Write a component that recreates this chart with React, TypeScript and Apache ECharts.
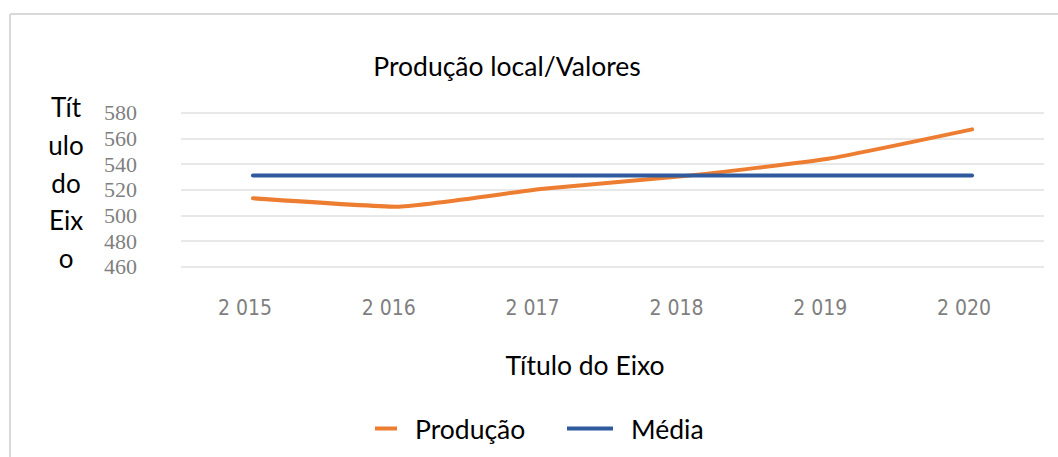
import React, { useEffect, useRef } from "react";
import * as echarts from "echarts";

const categories = ["2 015", "2 016", "2 017", "2 018", "2 019", "2 020"];
const producao = [513.3, 506.8, 520.5, 530.6, 544.1, 567];
const media = [531, 531, 531, 531, 531, 531];
const yTicks = { min: 460, max: 580, interval: 20 };
const chartTitle = "Produção local/Valores";
const xName = "Título do Eixo";
const yNameLines = ["Tít", "ulo", "do", "Eix", "o"];

const ORANGE = "#ED7D31";
const BLUE = "#2F5A9E";

export default function App() {
  const ref = useRef<HTMLDivElement>(null);
  useEffect(() => {
    if (!ref.current) return;
    const chart = echarts.init(ref.current, null, { renderer: "svg" });
    chart.setOption({
      animation: false,
      backgroundColor: "#ffffff",
      title: {
        text: chartTitle,
        left: 502,
        textAlign: "center",
        top: 47,
        textStyle: { fontFamily: "Lato", fontSize: 26.5, fontWeight: "normal", color: "#000" },
      },
      grid: { left: 181, right: 14, top: 112.7, bottom: 190.3, containLabel: false },
      xAxis: {
        type: "category",
        data: categories,
        boundaryGap: true,
        axisLine: { show: false },
        axisTick: { show: false },
        axisLabel: {
          margin: 31,
          color: "#7f7f7f",
          fontFamily: "Liberation Sans Narrow, DejaVu Sans Condensed, sans-serif",
          fontSize: 21,
          padding: [0, 16, 0, 0],
        },
      },
      yAxis: {
        type: "value",
        min: yTicks.min,
        max: yTicks.max,
        interval: yTicks.interval,
        axisLine: { show: false },
        axisTick: { show: false },
        axisLabel: {
          margin: 44,
          color: "#7f7f7f",
          fontFamily: "Liberation Serif, serif",
          fontSize: 22,
        },
        splitLine: { lineStyle: { color: "#e0e0e0", width: 1.5 } },
      },
      legend: [
        {
          data: ["Produção"],
          left: 370,
          top: 410,
          itemWidth: 22,
          itemHeight: 4,
          itemGap: 0,
          icon: "rect",
          textStyle: { fontFamily: "Lato", fontSize: 26.5, color: "#000", padding: [0, 0, 0, 13] },
        },
        {
          data: ["Média"],
          left: 562,
          top: 410,
          itemWidth: 46,
          itemHeight: 4,
          icon: "rect",
          textStyle: { fontFamily: "Lato", fontSize: 26.5, color: "#000", padding: [0, 0, 0, 13] },
        },
      ],
      graphic: [
        { type: "line", shape: { x1: 10, y1: 14, x2: 10, y2: 457 }, style: { stroke: "#d9d9d9", lineWidth: 2 } },
        { type: "line", shape: { x1: 10, y1: 14, x2: 1058, y2: 14 }, style: { stroke: "#d9d9d9", lineWidth: 2 } },
        {
          type: "text",
          x: 585,
          y: 365,
          style: {
            text: xName,
            fontFamily: "Lato",
            fontSize: 26.5,
            fill: "#000",
            align: "center",
            verticalAlign: "middle",
          },
        },
        ...yNameLines.map((t, i) => ({
          type: "text",
          x: 66,
          y: 107 + i * 37.8,
          style: {
            text: t,
            fontFamily: "Lato",
            fontSize: 26,
            fill: "#000",
            align: "center",
            verticalAlign: "middle",
          },
        })),
      ],
      series: [
        {
          name: "Produção",
          type: "line",
          data: producao,
          symbol: "none",
          smooth: 0.15,
          lineStyle: { color: ORANGE, width: 4, cap: "round" },
          itemStyle: { color: ORANGE },
        },
        {
          name: "Média",
          type: "line",
          data: media,
          symbol: "none",
          lineStyle: { color: BLUE, width: 4, cap: "round" },
          itemStyle: { color: BLUE },
        },
      ],
    });
    return () => chart.dispose();
  }, []);
  return (
    <div
      ref={ref}
      style={{ position: "fixed", left: 0, top: 0, width: 1058, height: 457 }}
    />
  );
}
